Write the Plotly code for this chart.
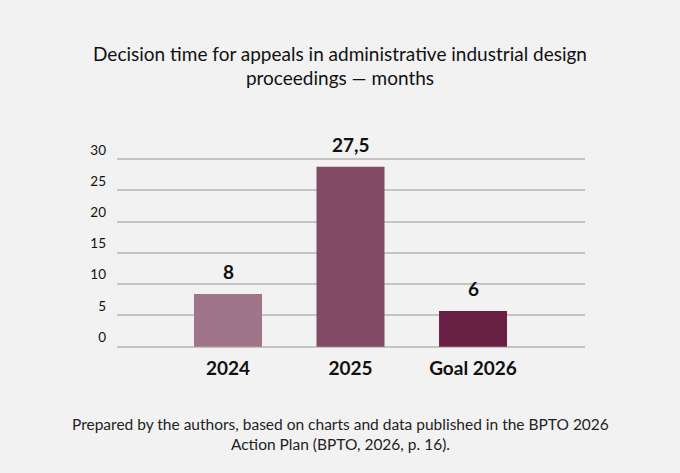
import plotly.graph_objects as go

categories = ["2024", "2025", "Goal 2026"]
values = [8.45, 28.8, 5.7]
labels = ["8", "27,5", "6"]
colors = ["#a07489", "#834a66", "#6a1f45"]
yticks = [0, 5, 10, 15, 20, 25, 30]

FONT = "Lato, Open Sans, sans-serif"

fig = go.Figure()
fig.add_trace(go.Bar(
    x=categories, y=values, marker=dict(color=colors, line=dict(width=0)),
    width=0.555, hoverinfo="skip"))

for i, (v, t) in enumerate(zip(values, labels)):
    fig.add_annotation(x=i, y=v, text="<b>%s</b>" % t, showarrow=False,
                       xref="x", yref="y", yanchor="bottom", yshift=9,
                       font=dict(family=FONT, size=19, color="#111111"))

fig.update_layout(
    width=680, height=473,
    paper_bgcolor="#f2f2f2", plot_bgcolor="#f2f2f2",
    margin=dict(l=117, r=95, t=158, b=125),
    showlegend=False,
    title=dict(text="Decision time for appeals in administrative industrial design<br>proceedings — months",
               x=0.5, xanchor="center", y=0.872, yanchor="middle",
               font=dict(family=FONT, size=19, color="#111111")),
    xaxis=dict(type="category", range=[-0.906, 2.914], showgrid=False, zeroline=False, showline=False,
               ticks="", tickfont=dict(family=FONT, size=19, color="#111111"),
               ticklabelstandoff=7,
               tickvals=categories, ticktext=["<b>%s</b>" % c for c in categories]),
    yaxis=dict(range=[-0.21, 30.2], tickvals=yticks, showgrid=True, gridcolor="#c4c4c4",
               gridwidth=1.5, zeroline=False, showline=False, ticks="",
               ticklabelposition="outside top", ticklabelstandoff=10,
               tickfont=dict(family=FONT, size=13.5, color="#111111")),
)

fig.add_annotation(
    text="Prepared by the authors, based on charts and data published in the BPTO 2026<br>Action Plan (BPTO, 2026, p. 16).",
    xref="paper", yref="paper", x=0.4765, y=-0.34, xanchor="center", yanchor="top",
    showarrow=False, align="center",
    font=dict(family=FONT, size=15.5, color="#222222"))

fig.write_html("out.html", config={"displayModeBar": False},
               post_script="document.body.style.margin='0';")
